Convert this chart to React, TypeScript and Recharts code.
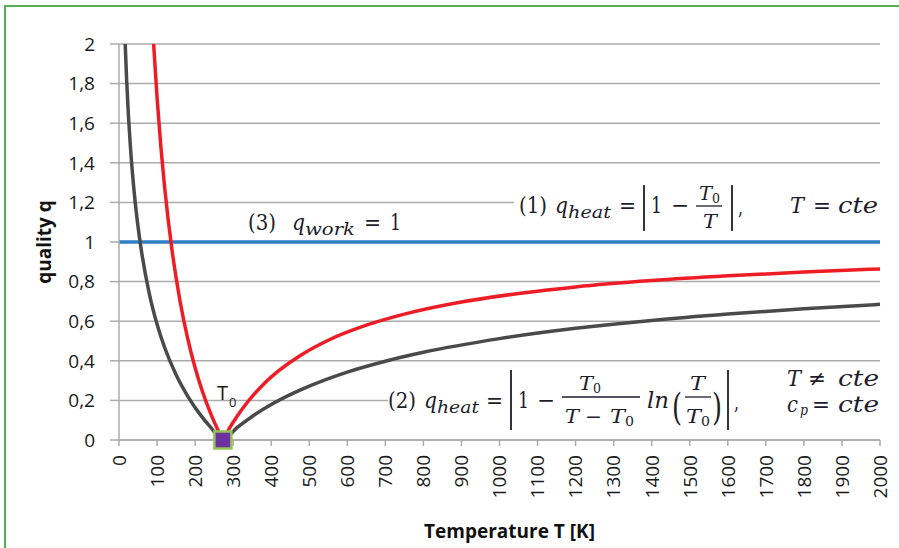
import React from "react";
import { ComposedChart, Line, Scatter, XAxis, YAxis, CartesianGrid } from "recharts";

// ---- data ----
const xTicks = [0, 100, 200, 300, 400, 500, 600, 700, 800, 900, 1000, 1100, 1200, 1300, 1400, 1500, 1600, 1700, 1800, 1900, 2000];
const yTicks = [0, 0.2, 0.4, 0.6, 0.8, 1, 1.2, 1.4, 1.6, 1.8, 2];

// (1) q_heat, T = cte  (red)
const redT = [91, 100, 110, 120, 140, 160, 180, 200, 220, 240, 260, 273, 290, 310, 340, 380, 420, 480, 550, 650, 750, 900, 1050, 1200, 1400, 1600, 1800, 2000];
const redQ = [2.0, 1.73, 1.482, 1.275, 0.95, 0.706, 0.517, 0.365, 0.241, 0.138, 0.05, 0, 0.059, 0.119, 0.197, 0.282, 0.35, 0.431, 0.504, 0.58, 0.636, 0.697, 0.74, 0.773, 0.805, 0.829, 0.848, 0.864];

// (2) q_heat, T != cte (dark grey)
const grayT = [16.3, 20, 25, 30, 40, 50, 60, 80, 100, 120, 150, 180, 210, 240, 273, 310, 350, 400, 450, 500, 600, 700, 800, 1000, 1200, 1400, 1600, 1800, 2000];
const grayQ = [2.0, 1.82, 1.632, 1.481, 1.25, 1.078, 0.942, 0.736, 0.585, 0.467, 0.329, 0.223, 0.137, 0.066, 0, 0.062, 0.119, 0.179, 0.229, 0.272, 0.343, 0.398, 0.443, 0.512, 0.564, 0.604, 0.636, 0.663, 0.685];

// (3) q_work = 1 (blue)
const blueT = [0, 2000];
const blueQ = [1, 1];

// T0 marker
const markerT = [273];
const markerQ = [0];

const redData = redT.map((T, i) => ({ T, q: redQ[i] }));
const grayData = grayT.map((T, i) => ({ T, q: grayQ[i] }));
const blueData = blueT.map((T, i) => ({ T, q: blueQ[i] }));
const markerData = markerT.map((T, i) => ({ T, q: markerQ[i] }));

const TICK_FONT = "'Open Sans', 'Liberation Sans', sans-serif";
const MATH_FONT = "'DejaVu Serif', 'Liberation Serif', serif";
const GRID = "#ababab";
const INK = "#1d1d2b";

const XTick = (props: any) => {
  const { x, y, payload } = props;
  return (
    <text
      transform={`translate(${x},${y}) rotate(-90)`}
      textAnchor="end"
      dy="0.36em"
      fontSize={19}
      fontFamily={TICK_FONT}
      fill="#1a1a1a"
    >
      {payload.value}
    </text>
  );
};

const MarkerShape = (props: any) => {
  const { cx, cy } = props;
  const s = 17;
  return <rect x={cx - s / 2} y={cy - s / 2} width={s} height={s} fill="#7030A0" stroke="#8cc850" strokeWidth={2.5} />;
};

const YTitle = (props: any) => {
  const vb = props.viewBox || {};
  const cx = (vb.x || 0) + 44;
  const cy = (vb.y || 0) + (vb.height || 0) / 2;
  return (
    <text transform={`translate(${cx},${cy}) rotate(-90)`} textAnchor="middle" dy="0.35em" fontSize={19} fontWeight="bold" fontFamily={TICK_FONT} fill="#111">
      quality q
    </text>
  );
};

const XTitle = (props: any) => {
  const vb = props.viewBox || {};
  const cx = (vb.x || 0) + (vb.width || 0) / 2 + 10;
  const cy = (vb.y || 0) + 91;
  return (
    <text x={cx} y={cy} textAnchor="middle" dy="0.35em" fontSize={19} fontWeight="bold" fontFamily={TICK_FONT} fill="#111">
      Temperature T [K]
    </text>
  );
};

// text segment: text, x, width, baseline, font size, italic
type Seg = [string, number, number, number, number, boolean?];

const M = (segs: Seg[]) =>
  segs.map(([t, x, w, y, s, it], i) => (
    <text
      key={i}
      x={x}
      y={y}
      fontSize={s}
      fontStyle={it ? "italic" : "normal"}
      fontFamily={MATH_FONT}
      fill={INK}
      textLength={w}
      lengthAdjust="spacingAndGlyphs"
    >
      {t}
    </text>
  ));

const VBar = ({ x, y1, y2 }: { x: number; y1: number; y2: number }) => (
  <line x1={x} y1={y1} x2={x} y2={y2} stroke={INK} strokeWidth={1.8} />
);
const HBar = ({ x1, x2, y }: { x1: number; x2: number; y: number }) => (
  <line x1={x1} y1={y} x2={x2} y2={y} stroke={INK} strokeWidth={1.3} />
);

const Annotations = () => (
  <svg width={899} height={548} style={{ position: "absolute", left: 0, top: 0, pointerEvents: "none" }}>
    {/* white boxes of the formula images */}
    <rect x={514} y={180} width={370} height={55} fill="#fff" />
    <rect x={388} y={366} width={496} height={70} fill="#fff" />

    {/* (3) */}
    {M([
      ["(3)", 248, 28, 230, 23],
      ["q", 292, 13, 230, 23, true],
      ["work", 305, 50, 235, 16, true],
      ["=", 364, 17, 230, 23],
      ["1", 390, 11, 230, 23],
    ])}

    {/* (1) */}
    {M([
      ["(1)", 519, 28, 213, 23],
      ["q", 555, 13, 213, 23, true],
      ["heat", 568, 43, 218, 16, true],
      ["=", 619, 17, 213, 23],
      ["1", 651, 11, 213, 23],
      ["−", 671, 18, 213, 23],
      ["T", 699, 13, 200, 19, true],
      ["0", 712, 8, 203, 13],
      ["T", 703, 14, 228, 19, true],
      [",", 738, 5, 215, 23],
      ["T", 790, 14, 213, 23, true],
      ["=", 813, 18, 213, 23],
      ["cte", 838, 40, 213, 23, true],
    ])}
    <VBar x={644} y1={185} y2={231} />
    <VBar x={732} y1={185} y2={231} />
    <HBar x1={696} x2={722} y={206} />

    {/* (2) */}
    {M([
      ["(2)", 388, 28, 408, 23],
      ["q", 424, 13, 408, 23, true],
      ["heat", 437, 42, 413, 16, true],
      ["=", 486, 17, 408, 23],
      ["1", 518, 11, 408, 23],
      ["−", 537, 18, 408, 23],
      ["T", 579, 14, 390, 19, true],
      ["0", 593, 8, 393, 13],
      ["T", 565, 14, 423, 19, true],
      ["−", 585, 17, 423, 19],
      ["T", 610, 15, 423, 19, true],
      ["0", 625, 9, 426, 13],
      ["ln", 647, 22, 408, 23, true],
      ["(", 672, 10, 420, 38],
      ["T", 690, 15, 390, 19, true],
      ["T", 686, 15, 423, 19, true],
      ["0", 701, 9, 426, 13],
      [")", 712, 10, 420, 38],
      [",", 734, 5, 410, 23],
      ["T", 787, 14, 386, 22, true],
      ["≠", 808, 18, 386, 22],
      ["cte", 838, 41, 386, 22, true],
      ["c", 787, 11, 412, 22, true],
      ["p", 800, 8, 415, 14, true],
      ["=", 812, 18, 412, 22],
      ["cte", 838, 41, 412, 22, true],
    ])}
    <VBar x={511} y1={370} y2={430} />
    <VBar x={728} y1={370} y2={430} />
    <HBar x1={562} x2={640} y={397} />
    <HBar x1={685} x2={711} y={397} />

    {/* T0 label */}
    <text x={217} y={400} fontSize={20} fontFamily={TICK_FONT} fill="#1a1a1a">T</text>
    <text x={229} y={407} fontSize={13} fontFamily={TICK_FONT} fill="#1a1a1a">0</text>
  </svg>
);

export default function App() {
  return (
    <div style={{ position: "absolute", left: 0, top: 0, width: 899, height: 548, overflow: "hidden", background: "#fff" }}>
      <div style={{ position: "absolute", left: 4, top: 5, width: 1000, height: 1000, border: "2px solid #55b055" }} />
      <div style={{ position: "absolute", left: 0, top: 0 }}>
        <ComposedChart width={899} height={548} margin={{ top: 44, right: 19, bottom: 0, left: 0 }}>
          <CartesianGrid vertical={false} stroke={GRID} strokeWidth={1.5} />
          <XAxis
            dataKey="T"
            type="number"
            domain={[0, 2000]}
            ticks={xTicks}
            interval={0}
            height={108}
            tickSize={6}
            tickMargin={9}
            tick={<XTick />}
            stroke={GRID}
            strokeWidth={1.5}
            label={<XTitle />}
          />
          <YAxis
            dataKey="q"
            type="number"
            domain={[0, 2]}
            ticks={yTicks}
            interval={0}
            width={119}
            tickSize={9}
            tickMargin={15}
            tickFormatter={(v: number) => String(Math.round(v * 10) / 10).replace(".", ",")}
            tick={{ fontSize: 19, fontFamily: TICK_FONT, fill: "#1a1a1a" }}
            stroke={GRID}
            strokeWidth={1.5}
            label={<YTitle />}
          />
          <Line data={blueData} dataKey="q" type="linear" stroke="#2f7fc6" strokeWidth={3.5} dot={false} isAnimationActive={false} />
          <Line data={grayData} dataKey="q" type="monotone" stroke="#4a4a4a" strokeWidth={3.5} dot={false} isAnimationActive={false} />
          <Line data={redData} dataKey="q" type="monotone" stroke="#ee1d25" strokeWidth={3.5} dot={false} isAnimationActive={false} />
          <Scatter data={markerData} dataKey="q" shape={<MarkerShape />} isAnimationActive={false} />
        </ComposedChart>
      </div>
      <Annotations />
    </div>
  );
}
